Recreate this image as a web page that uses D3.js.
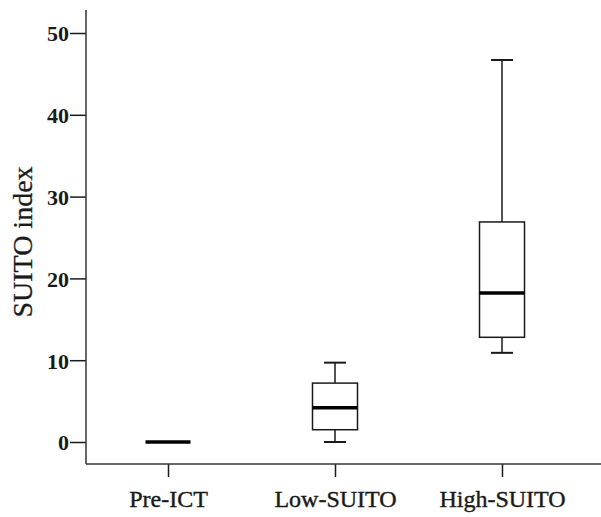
<!DOCTYPE html>
<html>
<head>
<meta charset="utf-8">
<script src="https://cdn.jsdelivr.net/npm/d3@7"></script>
<style>
  body { margin: 0; background: #fff; }
  svg { display: block; }
</style>
</head>
<body>
<svg class="d3-content" width="601" height="517"></svg>
<script>
    //data
    const categories = ["Pre-ICT", "Low-SUITO", "High-SUITO"]
    const whiskerLow = [0, 0, 10.9]
    const q1 = [0, 1.5, 12.8]
    const medians = [0, 4.2, 18.2]
    const q3 = [0, 7.2, 26.9]
    const whiskerHigh = [0, 9.7, 46.7]
    const yTicks = [0, 10, 20, 30, 40, 50]

    const dataSet = categories.map((c, i) => ({
        cat: c, lo: whiskerLow[i], q1: q1[i], med: medians[i], q3: q3[i], hi: whiskerHigh[i]
    }))

    //dimensions
    const w = 601
    const h = 517
    const margin = { top: 10, right: 0, bottom: 53, left: 86 }
    const svg = d3.select('.d3-content')
    const serif = '"Liberation Serif", "Times New Roman", serif'

    //scales
    const xScale = d3.scalePoint()
        .domain(categories)
        .range([168, 502])
    const yScale = d3.scaleLinear()
        .domain([0, 50])
        .range([442, 33])

    const boxW = 45
    const capW = 22
    const ink = "#1a1a1a"

    //axes
    const yAxis = d3.axisLeft(yScale)
        .tickValues(yTicks)
        .tickSize(16)
        .tickPadding(1)
        .tickSizeOuter(0)
    const gy = svg.append('g')
        .attr('transform', `translate(${margin.left}, 0)`)
        .call(yAxis)
    gy.select('.domain').remove()
    gy.append('line')
        .attr('x1', 0).attr('x2', 0)
        .attr('y1', margin.top).attr('y2', h - margin.bottom)
        .attr('stroke', '#333').attr('stroke-width', 1.5)
    gy.selectAll('.tick line').attr('stroke', ink).attr('stroke-width', 1.5)
    gy.selectAll('.tick text')
        .attr('fill', ink)
        .attr('dy', '0.36em')
        .style('font-family', serif)
        .style('font-size', '22px')
        .style('font-weight', 'bold')

    const xAxis = d3.axisBottom(xScale)
        .tickSize(13)
        .tickPadding(13)
        .tickSizeOuter(0)
    const gx = svg.append('g')
        .attr('transform', `translate(0, ${h - margin.bottom})`)
        .call(xAxis)
    gx.select('.domain').remove()
    gx.append('line')
        .attr('x1', margin.left).attr('x2', w)
        .attr('y1', 0).attr('y2', 0)
        .attr('stroke', '#333').attr('stroke-width', 1.5)
    gx.selectAll('.tick line').attr('stroke', ink).attr('stroke-width', 1.5)
    gx.selectAll('.tick text')
        .attr('fill', ink)
        .attr('stroke', ink)
        .attr('stroke-width', 0.4)
        .style('font-family', serif)
        .style('font-size', '24px')

    //label
    svg.append("text")
        .attr("transform", "rotate(-90)")
        .attr("x", -242)
        .attr("y", 32)
        .style("text-anchor", "middle")
        .style("font-family", serif)
        .style("font-size", "28px")
        .attr("fill", ink)
        .attr("stroke", ink)
        .attr("stroke-width", 0.3)
        .text("SUITO index")

    //boxes
    const boxes = svg.append('g')
        .selectAll('g')
        .data(dataSet.filter(d => d.hi > d.lo))
        .join('g')
        .attr('stroke', ink)
        .attr('fill', 'none')

    boxes.append('line')
        .attr('x1', d => xScale(d.cat)).attr('x2', d => xScale(d.cat))
        .attr('y1', d => yScale(d.hi)).attr('y2', d => yScale(d.q3))
        .attr('stroke-width', 1.5)
    boxes.append('line')
        .attr('x1', d => xScale(d.cat)).attr('x2', d => xScale(d.cat))
        .attr('y1', d => yScale(d.q1)).attr('y2', d => yScale(d.lo))
        .attr('stroke-width', 1.5)
    boxes.append('line')
        .attr('x1', d => xScale(d.cat) - capW / 2).attr('x2', d => xScale(d.cat) + capW / 2)
        .attr('y1', d => yScale(d.hi)).attr('y2', d => yScale(d.hi))
        .attr('stroke-width', 2)
    boxes.append('line')
        .attr('x1', d => xScale(d.cat) - capW / 2).attr('x2', d => xScale(d.cat) + capW / 2)
        .attr('y1', d => yScale(d.lo)).attr('y2', d => yScale(d.lo))
        .attr('stroke-width', 2)
    boxes.append('rect')
        .attr('x', d => xScale(d.cat) - boxW / 2)
        .attr('width', boxW)
        .attr('y', d => yScale(d.q3))
        .attr('height', d => yScale(d.q1) - yScale(d.q3))
        .attr('stroke-width', 1.5)

    //medians
    svg.append('g')
        .selectAll('line')
        .data(dataSet)
        .join('line')
        .attr('x1', d => xScale(d.cat) - boxW / 2)
        .attr('x2', d => xScale(d.cat) + boxW / 2)
        .attr('y1', d => yScale(d.med))
        .attr('y2', d => yScale(d.med))
        .attr('stroke', '#000')
        .attr('stroke-width', 3.5)
</script>
</body>
</html>
